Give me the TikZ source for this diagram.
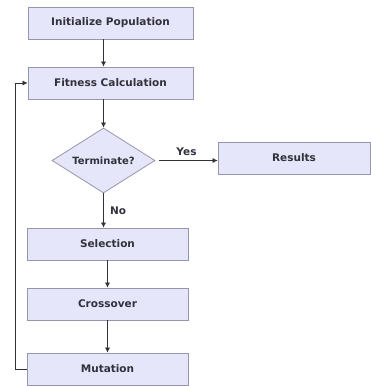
\documentclass[tikz,border=0pt]{standalone}
\usepackage{fontspec}
\setmainfont{DejaVu Sans}
\usetikzlibrary{arrows.meta,shapes.geometric}
\definecolor{ink}{RGB}{50,50,60}
\definecolor{boxfill}{RGB}{230,230,250}
\definecolor{boxline}{RGB}{150,150,170}

\begin{document}
\begin{tikzpicture}[x=1pt, y=-1pt,
    step box/.style={rectangle, draw=boxline, fill=boxfill, line width=0.8pt,
      minimum width=#1, minimum height=32pt, inner sep=0pt,
      font=\fontsize{10.5}{12}\selectfont\bfseries, text=ink},
    step box/.default=165pt,
    test/.style={diamond, draw=boxline, fill=boxfill, line width=0.8pt,
      aspect=1.6, inner sep=0pt, minimum width=103pt, minimum height=65pt,
      font=\fontsize{10}{12}\selectfont\bfseries, text=ink},
    flow/.style={-{Latex[length=5pt,width=5pt]}, line width=0.6pt, color=ink},
    lab/.style={font=\fontsize{10.5}{12}\selectfont\bfseries, text=ink}]

  \useasboundingbox (0,0) rectangle (370,386);

  % ---- the main column of steps ----------------------------------------------
  \node[step box] (init) at (110.5,23) {Initialize Population};
  \node[step box] (fit)  at (110.5,83) {Fitness Calculation};
  \node[test]     (term) at (103.5,160.5) {Terminate?};
  \node[step box=152pt] (res) at (294,158) {Results};
  \node[step box=161pt] (sel) at (107.5,244) {Selection};
  \node[step box=161pt] (cro) at (107.5,304) {Crossover};
  \node[step box=161pt] (mut) at (107.5,369) {Mutation};

  % ---- connectors -------------------------------------------------------------
  \draw[flow] (init.south -| term.north) -- (fit.north -| term.north);
  \draw[flow] (fit.south -| term.north) -- (term.north);
  \draw[flow, shorten <=4pt] (term.east) -- (res.west |- term.east)
    node[lab, midway, above=1pt] {Yes};
  \draw[flow] (term.south) -- (sel.north -| term.south)
    node[lab, midway, right=3pt] {No};
  \draw[flow] (sel) -- (cro);
  \draw[flow] (cro) -- (mut);

  % the loop back from mutation to the fitness step
  \draw[flow] (mut.west) -- ++(-11,0) |- (fit.west);
\end{tikzpicture}
\end{document}
